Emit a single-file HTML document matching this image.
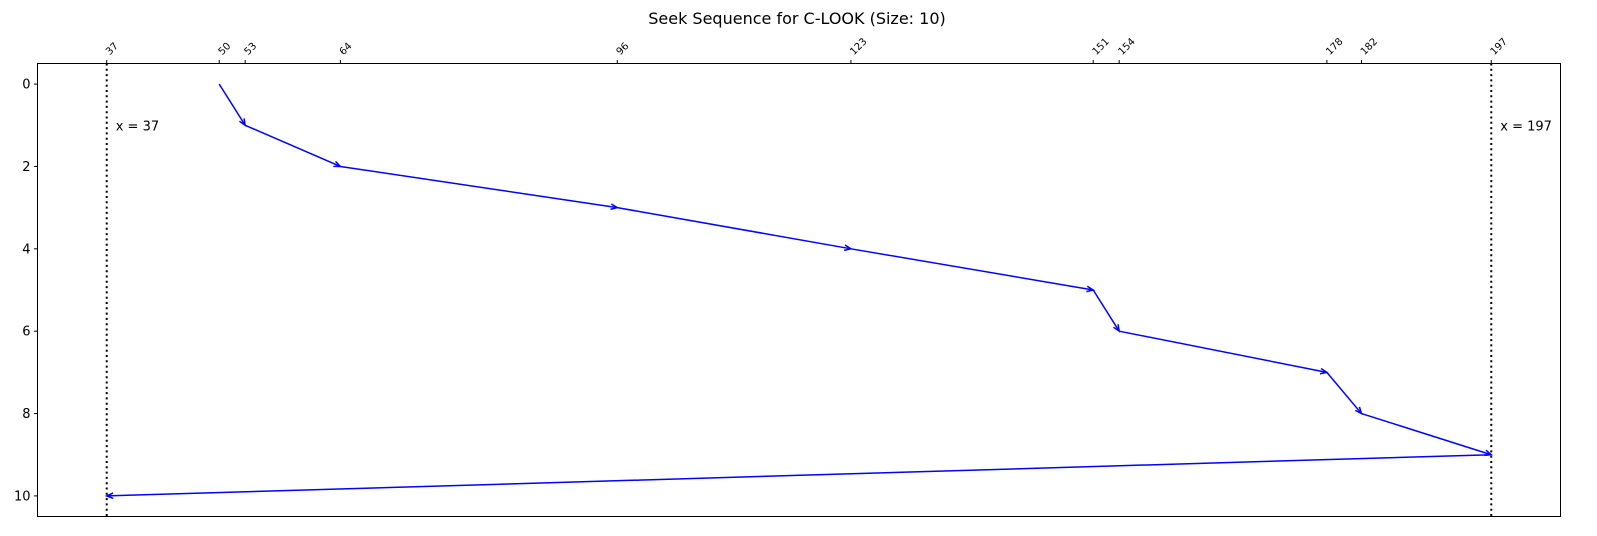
<!DOCTYPE html>
<html><head><meta charset="utf-8"><style>
html,body{margin:0;padding:0;background:#fff;overflow:hidden;width:1597px;height:536px;}
svg{display:block;font-family:"DejaVu Sans","Liberation Sans",sans-serif;}
</style></head><body>
<svg id="chart" width="1597" height="536" viewBox="0 0 1597 536" xmlns="http://www.w3.org/2000/svg">
<text x="797" y="24" text-anchor="middle" font-size="16">Seek Sequence for C-LOOK (Size: 10)</text>
<g id="plot"></g>
</svg>
<script>
const sequence = [50, 53, 64, 96, 123, 151, 154, 178, 182, 197, 37];
const xTicks = [37, 50, 53, 64, 96, 123, 151, 154, 178, 182, 197];
const yTicks = [0, 2, 4, 6, 8, 10];
const vLines = [37, 197];

const L=37.5,R=1560.5,T=63.5,B=516.5;
const xMin=29,xMax=205,yMin=-0.5,yMax=10.5;
const sx=v=>L+(v-xMin)/(xMax-xMin)*(R-L);
const sy=v=>T+(v-yMin)/(yMax-yMin)*(B-T);
const NS="http://www.w3.org/2000/svg";
const g=document.getElementById('plot');
function mk(tag,attrs){const e=document.createElementNS(NS,tag);for(const k in attrs)e.setAttribute(k,attrs[k]);g.appendChild(e);return e;}

vLines.forEach((v,i)=>{
  const l=mk('line',{x1:sx(v),x2:sx(v),y1:T,y2:B,stroke:'#000','stroke-width':2,'stroke-dasharray':'2,3.3'});
  
  
  const t=mk('text',{x:sx(v)+9,y:sy(1)+5,'font-size':13});
  t.textContent='x = '+v;
  
  
});

for(let i=0;i<sequence.length-1;i++){
  const x1=sx(sequence[i]),y1=sy(i),x2=sx(sequence[i+1]),y2=sy(i+1);
  const seg=mk('line',{x1,y1,x2,y2,stroke:'#0000ff','stroke-width':1.5});
  
  
  const a=Math.atan2(y2-y1,x2-x1),h=7,w=0.4;
  const p=`M${x2-h*Math.cos(a-w)},${y2-h*Math.sin(a-w)} L${x2},${y2} L${x2-h*Math.cos(a+w)},${y2-h*Math.sin(a+w)}`;
  const ah=mk('path',{d:p,fill:'none',stroke:'#0000ff','stroke-width':1.5});
  
  
}

const fr=mk('rect',{x:L,y:T,width:R-L,height:B-T,fill:'none',stroke:'#000','stroke-width':1});



xTicks.forEach(v=>{
  const x=sx(v);
  const tk=mk('line',{x1:x,x2:x,y1:T,y2:T-3.5,stroke:'#000'});
  
  
  const t=mk('text',{x:x+3,y:T-8,'font-size':10,transform:`rotate(-45 ${x+3} ${T-8})`});
  t.textContent=v;
  
  
});
yTicks.forEach(v=>{
  const y=sy(v);
  const tk=mk('line',{x1:L,x2:L-3.5,y1:y,y2:y,stroke:'#000'});
  
  
  const t=mk('text',{x:L-7,y:y+4.5,'font-size':13,'text-anchor':'end'});
  t.textContent=v;
  
  
});
</script>
</body></html>
